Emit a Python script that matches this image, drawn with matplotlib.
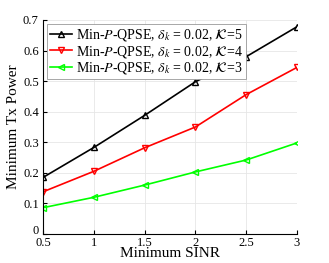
import numpy as np
import matplotlib.pyplot as plt
from matplotlib.transforms import ScaledTranslation

plt.rcParams['font.family'] = 'Liberation Serif'
plt.rcParams['mathtext.fontset'] = 'stix'

sinr = [0.5, 1, 1.5, 2, 2.5, 3]
p_k5 = [0.185, 0.283, 0.388, 0.498, 0.580, 0.678]
p_k4 = [0.138, 0.205, 0.282, 0.350, 0.456, 0.545]
p_k3 = [0.086, 0.120, 0.160, 0.203, 0.242, 0.298]

fig = plt.figure(figsize=(3.29, 2.63), dpi=100)
ax = fig.add_axes([43 / 329, 1 - 234 / 263, 254 / 329, 214 / 263])

lab = r'Min-$P$-QPSE, $\delta_k$ = 0.02, $\mathcal{K}$=%d'
ax.plot(sinr, p_k5, color='k', marker='^', ms=5, mfc='none', lw=1.2, label=lab % 5)
ax.plot(sinr, p_k4, color='r', marker='v', ms=5, mfc='none', lw=1.2, label=lab % 4)
ax.plot(sinr, p_k3, color='#00ff00', marker='<', ms=5, mfc='none', lw=1.2, label=lab % 3)

ax.set_xlim(0.5, 3)
ax.set_ylim(0, 0.7)
ax.set_xticks([0.5, 1, 1.5, 2, 2.5, 3])
ax.set_xticklabels(['0.5', '1', '1.5', '2', '2.5', '3'])
ax.set_yticks(np.arange(0, 0.71, 0.1))
ax.set_yticklabels(['0', '0.1', '0.2', '0.3', '0.4', '0.5', '0.6', '0.7'])
ax.tick_params(direction='in', labelsize=9, length=3, pad=2)
ax.tick_params(axis='y', pad=3)
ax.grid(True, color='#e6e6e6', lw=0.6)
ax.spines['top'].set_visible(False)
ax.spines['right'].set_visible(False)
ax.set_xlabel('Minimum SINR', fontsize=11, labelpad=-1)
ax.set_ylabel('Minimum Tx Power', fontsize=11, labelpad=2)

# nudge the "0" label up a little so it clears "0.5"
lbl0 = ax.get_yticklabels()[0]
lbl0.set_transform(lbl0.get_transform() + ScaledTranslation(0, 3 / 72, fig.dpi_scale_trans))

leg = ax.legend(loc='upper left', fontsize=10, fancybox=False, edgecolor='#999999',
                borderpad=0.2, labelspacing=0.05, handlelength=1.6, handletextpad=0.3,
                borderaxespad=0.3, framealpha=1)
leg.get_frame().set_linewidth(0.6)

fig.savefig('out.png', dpi=100)
